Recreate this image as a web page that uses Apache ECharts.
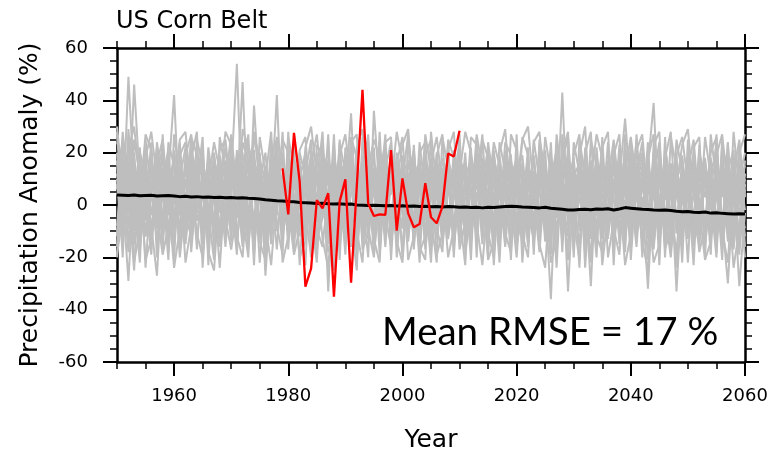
<!DOCTYPE html>
<html><head><meta charset="utf-8">
<script src="https://cdn.jsdelivr.net/npm/echarts@6/dist/echarts.min.js"></script>
<style>html,body{margin:0;padding:0;background:#fff}#c{width:771px;height:451px}</style>
</head><body><div id="c"></div>
<script>
const chartTitle = 'US Corn Belt';
const annotation = 'Mean RMSE = 17 %';
const xAxisName = 'Year';
const yAxisName = 'Precipitation Anomaly (%)';
const ensStartYear = 1950;
const obsStartYear = 1979;
const xTickLabels = [1960, 1980, 2000, 2020, 2040, 2060];
const yTickLabels = [-60, -40, -20, 0, 20, 40, 60];

// model ensemble members (1950-2060), estimated
const ens01 = [12,-5,49,8,-14,6,18,-9,3,15, -7,10,22,-12,4,-3,17,8,-16,5, 11,54,-6,9,-18,14,2,-11,20,7, -4,13,-9,18,1,-15,9,21,-6,3, 16,-12,8,2,-20,36,5,-8,12,-3, 19,-10,6,14,-17,3,10,-5,22,-13, 7,15,-9,1,18,-14,4,11,-7,16, -2,9,-16,13,5,-11,20,-4,43,-8, 6,12,-19,3,17,-6,9,-13,2,14, -10,7,18,-5,11,-15,4,16,-9,1, 13,-7,21,-12,6,9,-17,2,15,-4,10];
const ens02 = [-8,15,-3,46,9,-12,4,20,-6,11, 42,-4,8,16,-13,7,-2,19,5,-10, 13,3,47,-7,10,18,-27,6,12,-5, 9,-17,14,4,-8,20,-3,11,7,-14, 5,35,-9,15,3,-6,24,-12,8,17, -4,11,-15,7,19,-2,-13,9,4,16, -11,3,13,-6,8,22,-9,5,-16,10, 18,-7,4,-14,11,2,-36,15,-5,8, -12,19,30,-8,5,-3,13,-16,10,33, 4,-11,8,15,39,-6,12,-3,-18,9, -5,17,2,-13,10,23,-8,6,-11,14,-2];
const ens03 = [27,3,-29,12,-6,17,-10,5,14,-18, 8,21,-5,2,13,-9,16,-14,6,22, -3,10,7,-12,38,4,15,-8,19,1, -11,6,17,-4,12,-7,25,-13,8,15, -5,10,-16,6,20,-9,3,14,-6,11, 2,-14,18,-3,9,15,-8,4,-11,21, 5,-12,10,17,-6,3,14,-9,7,-15, 12,4,-8,19,-3,10,6,-13,16,-33, 9,2,-7,14,-11,20,-4,8,12,-6, 17,-9,3,-32,10,14,-5,7,19,-12, 4,11,-7,16,-14,8,3,20,-9,5,12];
const ens04 = [-16,22,10,-4,19,-24,8,2,-11,14, 5,-9,17,-2,10,21,-13,4,15,-7, 18,-5,9,14,-11,6,-17,11,3,20, -6,16,-2,9,-13,4,18,-33,12,-4, 10,-7,19,-11,6,14,-3,22,-14,5, -9,17,3,-6,12,-16,20,-2,8,-10, 14,-4,7,-13,16,9,-7,19,2,-11, 6,15,-10,3,-18,12,8,-5,17,4, -14,10,5,-31,13,-8,16,2,-10,7, 20,3,-12,9,-5,17,-9,12,-33,6, 15,-10,8,4,18,-6,11,-13,7,-31,-3];
const ens05 = [20,-11,7,15,-3,10,-8,-27,13,4, -14,6,12,19,-6,3,9,-11,17,2, 8,15,-10,4,21,-7,11,2,42,-9, 3,12,7,-14,17,9,-5,14,-12,20, -8,5,13,-4,9,-15,17,6,-2,-13, 12,8,-7,18,-11,6,13,-15,5,10, -3,20,-14,11,2,-8,16,-4,12,7, -13,14,9,-6,18,-10,3,12,-7,16, 2,-15,12,8,-4,19,-12,5,14,-9, 7,16,-6,13,-14,3,11,-18,9,18, -6,4,14,-10,9,17,-5,-30,6,11,3];
const ens06 = [4,9,-18,25,11,-6,15,3,-13,7, 18,-12,4,9,20,-15,7,13,-3,11, -8,19,5,-16,9,13,-4,17,-10,6, 15,-5,10,20,-9,3,12,-4,17,-10, 8,14,-2,11,-13,7,19,-5,10,3, -16,6,13,-9,17,4,-6,14,-12,2, 18,-9,5,12,-15,14,1,-10,16,4, 9,-12,15,6,-9,17,-3,10,-14,5, 14,7,-11,17,3,-13,10,18,-5,2, -11,12,20,-7,5,-10,16,2,11,-14, 19,7,-11,12,-2,14,-9,16,3,8,-12];
const ens07 = [28,-2,14,-15,6,20,-11,9,18,-4, 11,15,-9,23,-3,8,13,-16,4,17, -11,7,20,-4,13,-13,3,11,16,-7, 21,-10,5,13,6,-18,7,10,-2,15, -13,18,4,-8,15,10,-11,3,18,-9, 7,-4,16,11,-6,13,3,-12,17,9, -7,11,17,-4,9,-12,19,6,-3,13, -9,2,18,-11,7,13,-6,20,3,-12, 16,-6,9,2,-16,11,4,14,-11,20, -4,9,-15,17,2,11,-13,5,15,-5, 8,-14,11,3,16,-11,7,12,-16,9,15];
const ens08 = [-20,11,2,18,-9,13,5,-14,10,21, -5,13,-15,6,16,11,-7,20,-12,8, 14,-2,12,18,-15,9,20,-6,11,-13, 12,4,-12,16,10,-4,14,-8,19,6, -10,13,7,17,-5,12,-14,9,4,15, 10,-13,5,17,-4,9,15,-7,12,-15, 3,14,-8,19,-10,6,12,-16,8,17, 5,-15,11,2,14,-7,16,8,-11,12, -4,13,17,-13,9,4,-9,16,7,-14, 12,-4,6,14,-10,19,2,15,-6,11, -9,15,4,18,-12,3,17,-6,10,-13,6];
const ens09 = [8,-14,24,-7,16,2,-19,13,-5,9, 16,2,-11,13,-17,17,5,-9,14,-14, 6,13,-9,11,4,-10,14,8,-17,12, -14,18,9,-7,14,-12,3,16,-9,11, 17,-4,11,-13,13,5,-8,16,-11,8, 14,3,-11,10,16,-9,7,18,-5,12, -14,9,3,15,-5,17,-11,10,14,-8, 16,10,-5,12,-13,7,14,-10,9,15, -8,5,14,-6,20,-11,12,-7,17,4, 14,-13,10,4,16,-7,9,13,-11,17, 3,-12,16,9,-7,13,10,-11,18,2,-9];
const ens10 = [15,19,-9,3,22,-12,11,16,-8,1, 9,-17,15,10,3,20,-10,12,7,-16, 12,18,-14,7,-6,17,9,-15,13,10, 5,-8,20,11,-16,13,2,17,9,-7, 12,9,-6,19,4,-11,14,8,16,-5, -7,16,10,-13,5,18,-4,11,-9,14, 11,-6,16,-9,13,3,-14,16,5,-4, 13,19,-3,-13,10,16,-9,4,13,-6, 11,16,-2,10,-9,6,17,-14,3,12, 16,6,-8,11,-17,9,15,-8,4,13, 11,-4,-16,13,6,-8,14,4,-10,16,7];
const ens11 = [-11,6,17,-10,9,15,-4,12,22,-13, 21,7,-4,-12,11,-6,19,3,-8,14, -6,11,16,-10,18,2,-12,15,5,-4, 17,-13,4,7,19,-9,-16,6,13,10, -3,16,-13,8,14,18,-9,11,-7,20, 4,-9,14,6,-15,11,17,-10,6,3, 15,-11,9,6,17,-6,10,-12,18,8, -10,7,14,-8,16,-14,11,17,-3,9, 18,-10,7,13,-4,15,-8,10,-13,16, -7,14,11,-13,7,-2,18,-11,13,-8, 16,10,-3,-9,14,18,-13,9,1,-14,12];
const ens12 = [10,-7,13,9,-17,5,14,-6,19,11, -10,14,9,-5,16,12,-15,8,19,-3, 15,-13,6,17,-8,11,7,-3,14,18, -9,10,14,-11,5,16,12,-14,4,17, 9,-12,16,3,-7,14,10,-16,13,-6, 17,12,-6,14,9,-13,11,5,16,-8, 12,16,-12,4,11,-16,17,9,-8,14, 3,16,-14,9,13,-5,12,-16,11,19, -12,9,15,6,-12,14,3,-10,16,11, 5,-16,14,9,-9,16,-6,12,7,-10, 14,5,-12,17,2,-14,12,15,-6,10,20];
const ens13 = [24,18,-6,-15,2,27,21,-3,-19,-8, 6,25,28,4,-11,-20,9,24,13,-5, -17,-2,29,22,7,-14,-21,3,26,15, -1,-19,-9,22,30,11,-13,-24,5,19, 27,8,-10,-22,14,25,18,-4,-16,9, 23,29,1,-18,-12,16,26,7,-20,-9, 12,28,20,-7,-23,3,24,15,-11,-18, 8,25,30,6,-15,-24,10,21,-2,-17, 19,27,-5,-21,4,22,28,-9,-19,13, 26,9,-14,-25,11,24,-3,-20,7,23, 29,5,-18,-8,20,26,-10,-22,12,25,3];
const ens14 = [-19,-4,21,30,9,-21,-13,16,25,2, -24,-9,19,27,-2,12,-18,-25,8,28, 23,-12,-20,10,26,19,-7,-23,4,25, 20,2,-20,-14,15,27,6,-18,-10,24, 12,-16,22,29,-9,-20,11,24,26,-14, -22,8,21,-5,27,13,-19,-11,25,18, -17,-6,26,23,5,-21,-14,20,29,1, -20,11,-7,24,28,3,-22,-13,17,26, -6,-21,20,28,-12,-18,9,25,4,-23, -11,21,27,1,-22,-15,18,28,-8,-16, 14,25,-2,-21,-14,19,27,6,-24,-9,17];
const ens15 = [6,26,12,-22,-9,18,28,10,-12,24, 15,-20,1,26,19,-12,22,5,-24,9, 27,6,-16,23,14,-22,10,28,-8,-19, 26,14,-6,-23,21,8,28,-15,23,-16, 4,23,-21,12,27,-13,-22,17,7,28, 16,-21,-12,24,4,-22,19,27,-13,6, 25,-18,-3,27,14,-20,21,-6,24,19, -15,-4,22,-19,25,14,-19,27,8,-21, 24,12,-16,25,15,-23,-3,19,27,-11, 2,25,-20,18,27,-12,22,8,-24,19, -13,22,26,-15,3,-20,23,13,21,-19,8];
const ens16 = [-12,28,3,-25,20,12,-16,24,7,-21, 27,10,-22,-8,25,15,-3,-21,26,13, -14,21,-4,-20,28,9,-18,19,25,-22, -12,25,12,-2,-20,23,19,-7,27,-21, 22,-6,-25,26,10,-18,28,-10,21,13, -20,24,10,-22,19,25,-9,-18,21,28, -4,-23,19,8,27,-11,-20,24,13,-21, 27,-22,6,18,-6,26,12,-24,20,28, -17,22,-24,10,27,18,-20,-6,23,-18, 25,-9,15,-21,23,28,-17,-9,25,12, -22,18,-9,26,11,-18,25,-14,28,6,-20];
const ens17 = [17,-20,29,2,-22,25,5,22,-17,19, -21,24,-6,18,28,-24,13,-7,21,25, 3,-19,24,17,-23,26,12,-9,22,-15, 28,-12,21,26,-4,-22,20,13,-25,8, -19,26,18,-5,24,-19,3,27,-21,16, 26,-6,23,-16,-21,28,7,-14,24,-20, 19,10,-21,26,-12,24,8,-22,21,11, -7,26,19,-16,23,-8,24,-20,27,-3, 10,-24,22,5,-20,26,-13,23,-15,27, -21,12,24,-9,20,-23,26,-14,19,26, 8,-23,20,11,-19,27,-11,24,-17,20,27];
const ens18 = [30,8,-15,20,-10,-2,24,-20,27,-14, 1,19,24,-18,8,26,-23,17,-12,-4, 24,-15,13,27,-19,20,-10,24,-4,28, -17,21,-23,12,25,-14,-5,27,-18,25, -15,24,27,-17,-11,22,-19,14,24,-20, 9,27,-17,20,24,-5,-22,26,14,-18, 27,-14,22,-20,25,18,-23,12,-15,27, 21,-11,-20,25,9,21,-14,24,-18,23, -20,25,11,-22,22,-4,24,-23,20,7, -18,27,-4,24,-16,21,-20,26,14,-22, 25,-16,23,-20,27,9,-21,24,-12,24,-16];
const ensembleMembers = [ens13, ens14, ens15, ens16, ens17, ens18, ens01, ens02, ens03, ens04, ens05, ens06, ens07, ens08, ens09, ens10, ens11, ens12];

// ensemble mean (1950-2060)
const ensembleMean = [3.8,3.7,3.6,3.8,3.5,3.6,3.7,3.4,3.5,3.6, 3.4,3.2,3.3,3.1,3.2,3.0,3.1,2.9,3.0,2.8, 2.9,2.7,2.8,2.6,2.5,2.3,2.0,1.8,1.6,1.5, 1.3,1.2,1.0,0.9,0.8,0.6,0.7,0.5,0.4,0.5, 0.3,0.4,0.0,-0.1,-0.2,-0.1,-0.2,-0.3,-0.2,-0.4, -0.3,-0.5,-0.4,-0.6,-0.5,-0.7,-0.6,-0.8,-0.6,-0.7, -0.9,-0.8,-1.0,-0.9,-1.1,-0.9,-1.0,-0.8,-0.6,-0.5, -0.6,-0.8,-0.9,-1.0,-1.1,-0.9,-1.2,-1.4,-1.6,-1.9, -1.9,-1.7,-1.6,-1.8,-1.5,-1.6,-1.4,-1.9,-1.5,-1.0, -1.2,-1.4,-1.6,-1.7,-1.9,-2.0,-1.9,-2.1,-2.4,-2.6, -2.5,-2.8,-2.9,-2.7,-3.1,-3.0,-3.2,-3.3,-3.4,-3.3,-3.4];

// observations (1979-2010)
const observed = [14,-3.6,27.6,8.9,-31.2,-24.2,1.9,-1.3,4.5,-35, 1.3,9.8,-29.7,7,44,0.6,-4.2,-3.6,-3.8,21, -9.8,10.2,-3.2,-8.5,-7.3,8.3,-4.7,-7,-0.6,19.7, 18.5,28.4];

const toPairs = (arr, start) => arr.map((v, i) => [start + i, v]);
const FONT = 'DejaVu Sans';

const series = [];
ensembleMembers.forEach((m, k) => series.push({
  type: 'line', name: 'member' + (k + 1), data: toPairs(m, ensStartYear),
  showSymbol: false, symbol: 'none', silent: true,
  lineStyle: { color: '#bebebe', width: 2 }, z: 2
}));
series.push({ type: 'line', name: 'mean', data: toPairs(ensembleMean, ensStartYear), symbol: 'none', silent: true,
  lineStyle: { color: '#000', width: 3 }, z: 3 });
series.push({ type: 'line', name: 'obs', data: toPairs(observed, obsStartYear), symbol: 'none', silent: true,
  lineStyle: { color: '#ff0000', width: 2.3 }, z: 4 });

const axBase = { type: 'value', min: 1950, max: 2060, splitLine: { show: false } };
const black = '#000';
const option = {
  animation: false,
  backgroundColor: '#fff',
  grid: { left: 117, right: 26, top: 48, bottom: 89, containLabel: false, outerBoundsMode: 'none' },
  xAxis: [
    Object.assign({}, axBase, { position: 'bottom', interval: 5,
      axisLine: { show: true, onZero: false, lineStyle: { color: black, width: 2.5 } },
      axisTick: { show: true, length: 7, lineStyle: { color: black, width: 1.5 } },
      axisLabel: { show: false } }),
    Object.assign({}, axBase, { position: 'bottom',
      axisLine: { show: false, onZero: false },
      axisTick: { show: true, length: 14, customValues: xTickLabels, lineStyle: { color: black, width: 2 } },
      axisLabel: { show: true, customValues: xTickLabels, formatter: v => String(v), margin: 25, fontSize: 18, fontFamily: FONT, color: black },
      name: xAxisName, nameLocation: 'middle', nameGap: 66,
      nameTextStyle: { fontSize: 25, fontFamily: FONT, color: black } }),
    Object.assign({}, axBase, { position: 'top', interval: 5,
      axisLine: { show: true, onZero: false, lineStyle: { color: black, width: 2.5 } },
      axisTick: { show: true, length: 7, lineStyle: { color: black, width: 1.5 } },
      axisLabel: { show: false } }),
    Object.assign({}, axBase, { position: 'top',
      axisLine: { show: false, onZero: false },
      axisTick: { show: true, length: 14, customValues: xTickLabels, lineStyle: { color: black, width: 2 } },
      axisLabel: { show: false } })
  ],
  yAxis: [
    { type: 'value', position: 'left', min: -60, max: 60, interval: 20, splitLine: { show: false },
      axisLine: { show: true, onZero: false, lineStyle: { color: black, width: 2.5 } },
      axisTick: { show: true, length: 14, lineStyle: { color: black, width: 2 } },
      minorTick: { show: true, splitNumber: 4, length: 7, lineStyle: { color: black, width: 1.5 } },
      axisLabel: { show: true, customValues: yTickLabels, margin: 29, fontSize: 18, fontFamily: FONT, color: black },
      name: yAxisName, nameLocation: 'middle', nameGap: 74,
      nameTextStyle: { fontSize: 25, fontFamily: FONT, color: black } },
    { type: 'value', position: 'right', min: -60, max: 60, interval: 20, splitLine: { show: false },
      axisLine: { show: true, onZero: false, lineStyle: { color: black, width: 2.5 } },
      axisTick: { show: true, length: 14, lineStyle: { color: black, width: 2 } },
      minorTick: { show: true, splitNumber: 4, length: 7, lineStyle: { color: black, width: 1.5 } },
      axisLabel: { show: false } }
  ],
  graphic: [
    { type: 'text', left: 116, top: 10, style: { text: chartTitle, font: '24px "DejaVu Sans"', fill: black } },
    { type: 'text', left: 382, top: 313, style: { text: annotation, font: '38.5px Lato', fill: black } }
  ],
  series: series
};
const chart = echarts.init(document.getElementById('c'), null, { renderer: 'canvas' });
chart.setOption(option);
</script></body></html>
